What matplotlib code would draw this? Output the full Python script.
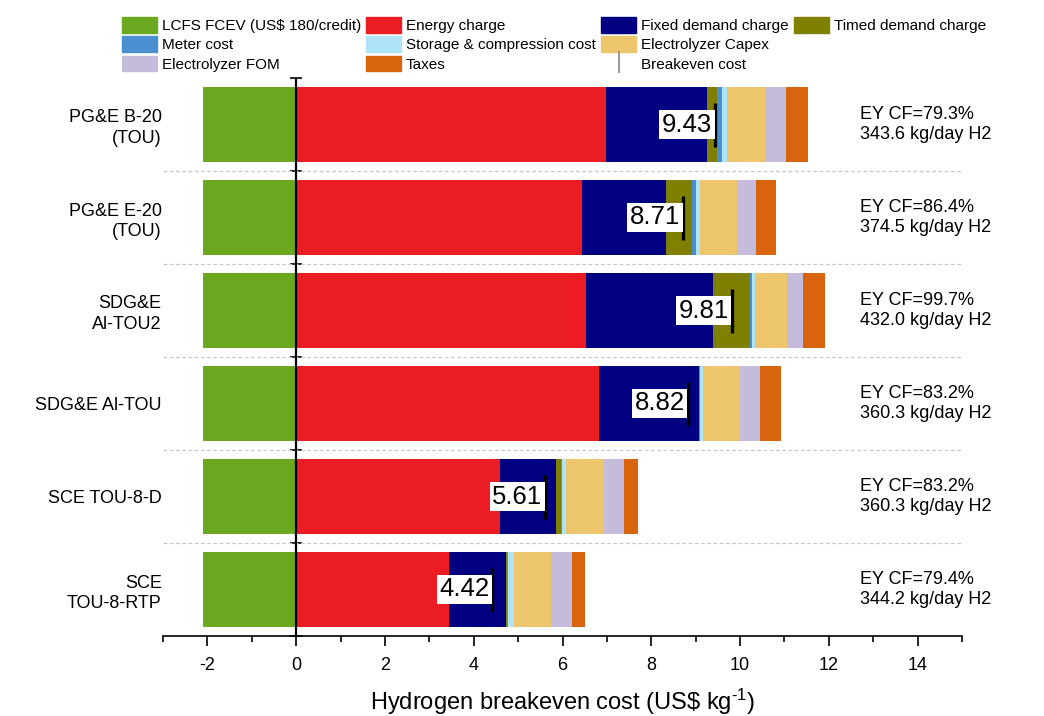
import matplotlib
matplotlib.use("Agg")
import matplotlib.pyplot as plt
from matplotlib.patches import Patch
from matplotlib.lines import Line2D
import numpy as np

plt.rcParams['font.family'] = ['Liberation Sans', 'DejaVu Sans']
plt.rcParams['axes.unicode_minus'] = False
plt.rcParams['mathtext.fontset'] = 'custom'
plt.rcParams['mathtext.rm'] = 'Liberation Sans'
plt.rcParams['mathtext.it'] = 'Liberation Sans:italic'
plt.rcParams['mathtext.bf'] = 'Liberation Sans:bold'

categories = ["PG&E B-20\n(TOU)", "PG&E E-20\n(TOU)", "SDG&E\nAl-TOU2",
              "SDG&E Al-TOU", "SCE TOU-8-D", "SCE\nTOU-8-RTP"]
lcfs = [-2.1, -2.1, -2.1, -2.1, -2.1, -2.1]
energy = [6.97, 6.45, 6.52, 6.82, 4.60, 3.44]
fixed_demand = [2.28, 1.88, 2.87, 2.26, 1.26, 1.29]
timed_demand = [0.22, 0.58, 0.83, 0.00, 0.10, 0.03]
meter = [0.12, 0.10, 0.05, 0.01, 0.04, 0.02]
storage = [0.11, 0.08, 0.06, 0.07, 0.09, 0.12]
capex = [0.86, 0.83, 0.72, 0.85, 0.84, 0.85]
fom = [0.48, 0.44, 0.37, 0.45, 0.45, 0.47]
taxes = [0.50, 0.46, 0.50, 0.46, 0.33, 0.29]
breakeven = [9.43, 8.71, 9.81, 8.82, 5.61, 4.42]
ey_cf = ["79.3%", "86.4%", "99.7%", "83.2%", "83.2%", "79.4%"]
h2_prod = ["343.6", "374.5", "432.0", "360.3", "360.3", "344.2"]

series = [
    ("Energy charge", energy, "#ec1c24"),
    ("Fixed demand charge", fixed_demand, "#000080"),
    ("Timed demand charge", timed_demand, "#808000"),
    ("Meter cost", meter, "#4a90d0"),
    ("Storage & compression cost", storage, "#aee4f8"),
    ("Electrolyzer Capex", capex, "#ecc56c"),
    ("Electrolyzer FOM", fom, "#c5bcdc"),
    ("Taxes", taxes, "#d8650e"),
]
lcfs_color = "#6aa81f"

fig = plt.figure(figsize=(10.44, 7.16), dpi=100)
ax = fig.add_axes([163/1044, 1-636/716, (962-163)/1044, (636-78)/716])

y = np.arange(len(categories))
h = 0.8
ax.barh(y, lcfs, height=h, color=lcfs_color, zorder=2)
left = np.zeros(len(categories))
for name, vals, col in series:
    v = np.array(vals)
    ax.barh(y, v, left=left, height=h, color=col, zorder=2)
    left += v

ax.axvline(0, color='black', lw=1.6, zorder=3)

ax.plot(breakeven, y, ls='none', marker='|', ms=31, mew=2.4, color='black', zorder=4)
for yi, b in zip(y, breakeven):
    ax.annotate(f"{b:.2f}", xy=(b, yi), xytext=(-2, 0), textcoords='offset points',
                ha='right', va='center', fontsize=18.5, zorder=5,
                bbox=dict(boxstyle='square,pad=0.1', fc='white', ec='none'))

for yi, cf, hp in zip(y, ey_cf, h2_prod):
    ax.text(12.7, yi, f"EY CF={cf}\n{hp} kg/day H2", ha='left', va='center',
            fontsize=13, linespacing=1.3)

for b in np.arange(len(categories) - 1) + 0.5:
    ax.axhline(b, color='#c8c8c8', lw=0.9, ls=(0, (3, 2)), zorder=1)

ax.set_xlim(-3, 15)
ax.set_ylim(len(categories) - 0.5, -0.5)
ax.set_xticks(np.arange(-2, 15, 2))
ax.set_xticks(np.arange(-3, 16, 1), minor=True)
ax.tick_params(axis='x', which='major', direction='out', length=7, width=1.2,
               labelsize=13, pad=8)
ax.tick_params(axis='x', which='minor', direction='out', length=4, width=1.2)
ax.set_yticks(y)
ax.set_yticklabels(categories, fontsize=13, ha='right', multialignment='right', linespacing=1.3)
ax.tick_params(axis='y', length=0, pad=1)
for s in ['top', 'right', 'left']:
    ax.spines[s].set_visible(False)
ax.spines['bottom'].set_linewidth(1.2)
ax.set_xlabel("Hydrogen breakeven cost (US\\$ kg$^{\\text{-1}}$)", fontsize=17, labelpad=9)

sec = ax.secondary_yaxis(1/6)
sec.set_yticks(np.arange(-0.5, len(categories), 1.0))
sec.set_yticklabels([])
sec.tick_params(direction='inout', length=9, width=1.2)
sec.spines['left'].set_visible(False)

handles = {}
handles["LCFS FCEV (US$ 180/credit)"] = Patch(color=lcfs_color)
for name, vals, col in series:
    handles[name] = Patch(color=col)
handles["Breakeven cost"] = Line2D([], [], ls='none', marker='|', ms=16, mew=1.2, color='#888888')
blank = Patch(color='none')
order = ["LCFS FCEV (US$ 180/credit)", "Meter cost", "Electrolyzer FOM",
         "Energy charge", "Storage & compression cost", "Taxes",
         "Fixed demand charge", "Electrolyzer Capex", "Breakeven cost",
         "Timed demand charge"]
hl = [handles[k] for k in order] + [blank, blank]
ll = order + ["", ""]
fig.legend(hl, ll, loc='upper left', bbox_to_anchor=(122/1044, 1-17/716), ncol=4,
           frameon=False, fontsize=11, handlelength=2.3, handleheight=1.2,
           handletextpad=0.3, columnspacing=0.35, labelspacing=0.22, borderpad=0,
           borderaxespad=0)

fig.savefig("out.png", dpi=100)
